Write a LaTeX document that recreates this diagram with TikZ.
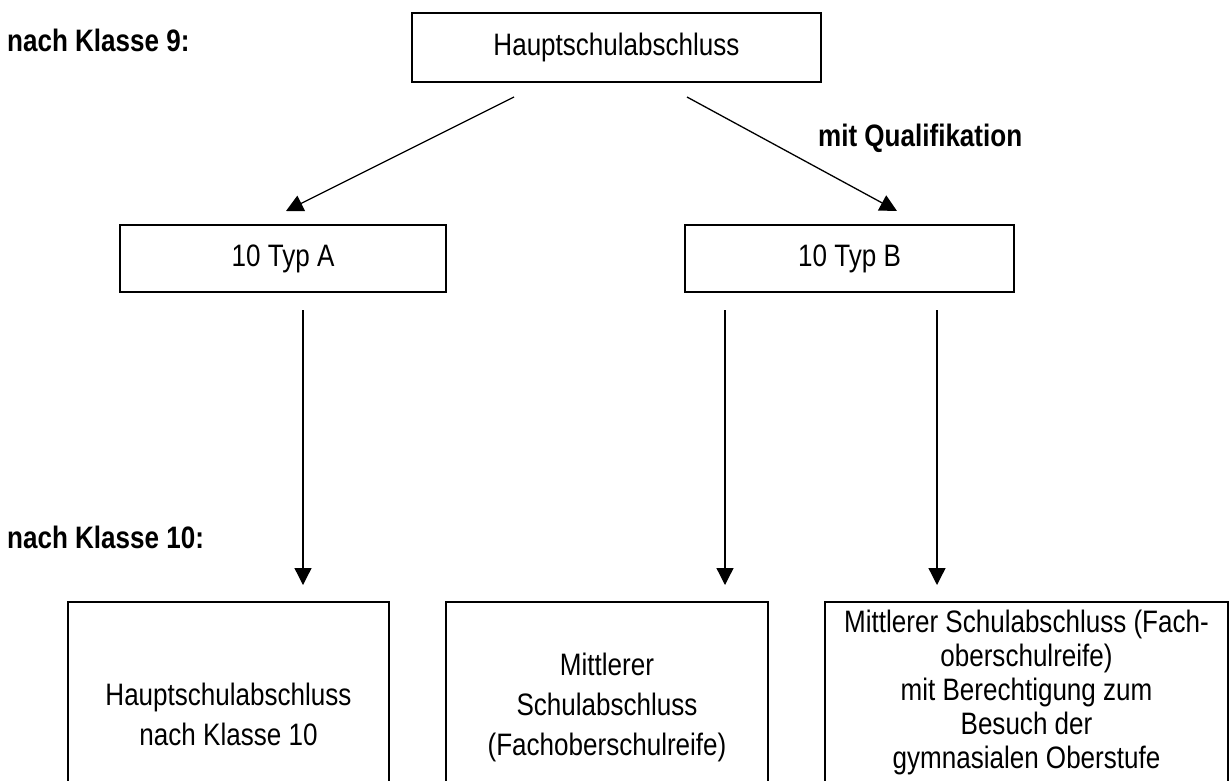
\documentclass[tikz,border=0pt]{standalone}
\usepackage{fontspec}
\setmainfont{Liberation Sans}[FakeStretch=0.84]
\usetikzlibrary{arrows.meta}
\begin{document}
\begin{tikzpicture}[x=1pt,y=-1pt,
  box/.style={draw,line width=2pt,inner sep=0pt,align=center,font=\fontsize{31}{40}\selectfont},
  lbl/.style={anchor=west,inner sep=0pt,font=\fontsize{31}{37}\selectfont\bfseries},
  arr/.style={line width=1.3pt,-{Triangle[length=17pt,width=17pt]}}]
\useasboundingbox (0,0) rectangle (1229,780);
\clip (0,0) rectangle (1229,780);
% labels
\node[lbl] (k9) at (7,40) {nach Klasse 9:};
\node[lbl] (k10) at (7,537) {nach Klasse 10:};
\node[lbl] (q) at (818,138) {mit Qualifikation};
% boxes
\node[box,minimum width=409pt,minimum height=69pt] (top) at (616.5,47.5) {Hauptschulabschluss};
\node[box,minimum width=326pt,minimum height=67pt] (A) at (283,258.5) {10 Typ A};
\node[box,minimum width=329pt,minimum height=67pt] (B) at (849.5,258.5) {10 Typ B};
\node[box,anchor=north,minimum width=321pt,minimum height=224pt] (C1) at (228.5,601) {Hauptschulabschluss\\nach Klasse 10};
\node[box,anchor=north,minimum width=322pt,minimum height=210pt] (C2) at (607,601) {Mittlerer\\Schulabschluss\\(Fachoberschulreife)};
\node[box,anchor=north,minimum width=403pt,minimum height=180pt,font=\fontsize{31}{34}\selectfont] (C3) at (1026.5,601) {Mittlerer Schulabschluss (Fach-\\oberschulreife)\\mit Berechtigung zum\\Besuch der\\gymnasialen Oberstufe};
% connector end points
\coordinate (s1) at (514,97);
\coordinate (e1) at (286,211);
\coordinate (s2) at (687,97);
\coordinate (e2) at (897,211);
\coordinate (s3) at (303,310);
\coordinate (e3) at (303,585);
\coordinate (s4) at (725,310);
\coordinate (e4) at (725,585);
\coordinate (s5) at (937,310);
\coordinate (e5) at (937,585);
\draw[arr] (s1) -- (e1);
\draw[arr] (s2) -- (e2);
\draw[arr] (s3) -- (e3);
\draw[arr] (s4) -- (e4);
\draw[arr] (s5) -- (e5);
\end{tikzpicture}
\end{document}
